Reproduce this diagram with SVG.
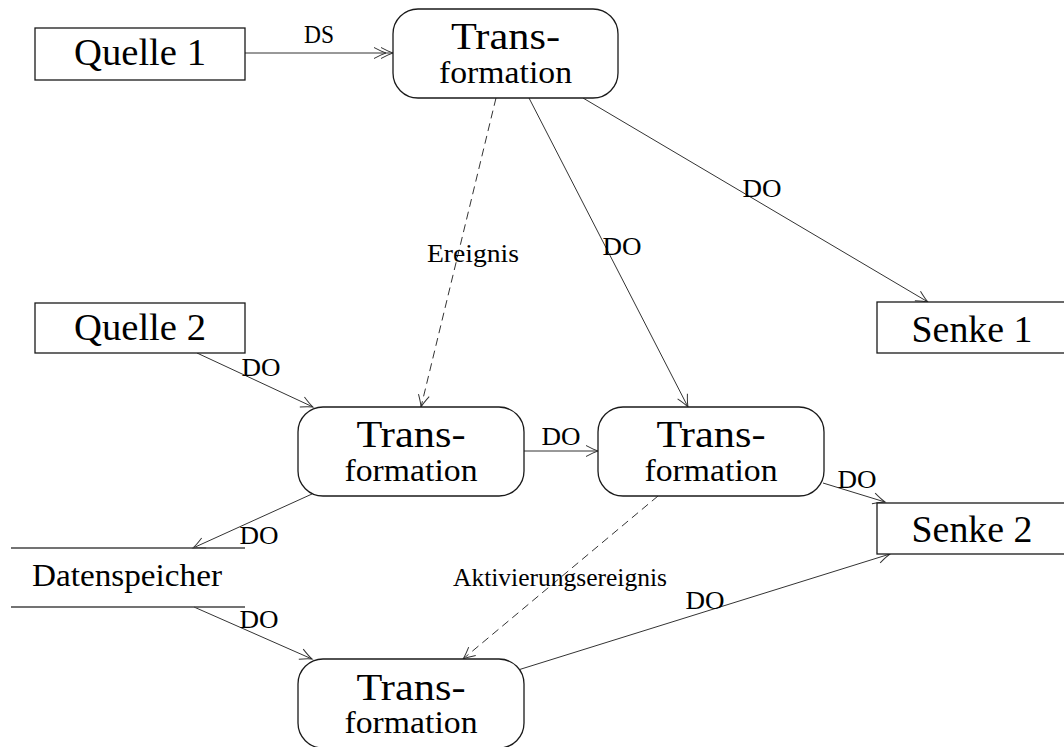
<svg xmlns="http://www.w3.org/2000/svg" width="1064" height="747" viewBox="0 0 1064 747">
  <style>
    .box { fill: #ffffff; stroke: #1a1a1a; stroke-width: 1.3; }
    .store { fill: none; stroke: #444444; stroke-width: 1.4; }
    .edge { fill: none; stroke: #333333; stroke-width: 1; marker-end: url(#tip); }
    .dash { stroke-dasharray: 8 5; }
    .dbl { marker-end: url(#tip2); }
    text { font-family: "Liberation Serif", "Times New Roman", serif; fill: #000000; text-anchor: middle; }
    .big { font-size: 37px; }
    .mid { font-size: 31px; }
    .lbl { font-size: 25px; }
  </style>
  <defs>
    <marker id="tip" markerUnits="userSpaceOnUse" orient="auto" refX="0" refY="0" markerWidth="30" markerHeight="30" viewBox="-15 -15 30 30" overflow="visible">
      <path d="M-12,-5.5 Q-4,-1.2 0,0 Q-4,1.2 -12,5.5" fill="none" stroke="#333333" stroke-width="1"/>
    </marker>
    <marker id="tip2" markerUnits="userSpaceOnUse" orient="auto" refX="0" refY="0" markerWidth="40" markerHeight="30" viewBox="-25 -15 40 30" overflow="visible">
      <path d="M-12,-5.5 Q-4,-1.2 0,0 Q-4,1.2 -12,5.5 M-19,-5.5 Q-11,-1.2 -7,0 Q-11,1.2 -19,5.5" fill="none" stroke="#333333" stroke-width="1"/>
    </marker>
  </defs>

  <!-- connectors -->
  <g id="edges">
    <line class="edge dbl" x1="245" y1="53" x2="393" y2="53"/>
    <text class="lbl" x="319" y="43" textLength="30" lengthAdjust="spacingAndGlyphs">DS</text>

    <line class="edge dash" x1="496" y1="98" x2="421" y2="407"/>
    <text class="lbl" x="473" y="262" textLength="92" lengthAdjust="spacingAndGlyphs">Ereignis</text>

    <line class="edge" x1="529" y1="98" x2="688" y2="407"/>
    <text class="lbl" x="622" y="255" textLength="39" lengthAdjust="spacingAndGlyphs">DO</text>

    <line class="edge" x1="583" y1="98" x2="928" y2="302"/>
    <text class="lbl" x="762" y="197" textLength="39" lengthAdjust="spacingAndGlyphs">DO</text>

    <line class="edge" x1="197" y1="353" x2="313" y2="407"/>
    <text class="lbl" x="261" y="376" textLength="39" lengthAdjust="spacingAndGlyphs">DO</text>

    <line class="edge" x1="524" y1="451" x2="598" y2="451"/>
    <text class="lbl" x="561" y="445" textLength="39" lengthAdjust="spacingAndGlyphs">DO</text>

    <line class="edge" x1="312" y1="494" x2="193" y2="548"/>
    <text class="lbl" x="259" y="544" textLength="39" lengthAdjust="spacingAndGlyphs">DO</text>

    <line class="edge" x1="194" y1="607" x2="312" y2="659"/>
    <text class="lbl" x="259" y="628" textLength="39" lengthAdjust="spacingAndGlyphs">DO</text>

    <line class="edge" x1="823" y1="483" x2="885" y2="502"/>
    <text class="lbl" x="857" y="488" textLength="39" lengthAdjust="spacingAndGlyphs">DO</text>

    <line class="edge dash" x1="658" y1="496" x2="463" y2="659"/>
    <text class="lbl" x="560" y="586" textLength="214" lengthAdjust="spacingAndGlyphs">Aktivierungsereignis</text>

    <line class="edge" x1="518" y1="670" x2="890" y2="554"/>
    <text class="lbl" x="705" y="609" textLength="39" lengthAdjust="spacingAndGlyphs">DO</text>
  </g>

  <!-- sources -->
  <g id="quelle1">
    <rect class="box" x="35" y="28" width="210" height="52"/>
    <text class="big" x="140" y="65" textLength="132" lengthAdjust="spacingAndGlyphs">Quelle 1</text>
  </g>
  <g id="quelle2">
    <rect class="box" x="35" y="303" width="210" height="50"/>
    <text class="big" x="140" y="340" textLength="132" lengthAdjust="spacingAndGlyphs">Quelle 2</text>
  </g>

  <!-- transformations -->
  <g id="trans1">
    <rect class="box" x="393" y="9" width="225" height="89" rx="25" ry="25"/>
    <text class="big" x="505.5" y="49" textLength="109" lengthAdjust="spacingAndGlyphs">Trans-</text>
    <text class="mid" x="505.5" y="83" textLength="133" lengthAdjust="spacingAndGlyphs">formation</text>
  </g>
  <g id="trans2">
    <rect class="box" x="298" y="407" width="226" height="89" rx="25" ry="25"/>
    <text class="big" x="411" y="447" textLength="109" lengthAdjust="spacingAndGlyphs">Trans-</text>
    <text class="mid" x="411" y="481" textLength="133" lengthAdjust="spacingAndGlyphs">formation</text>
  </g>
  <g id="trans3">
    <rect class="box" x="598" y="407" width="226" height="89" rx="25" ry="25"/>
    <text class="big" x="711" y="447" textLength="109" lengthAdjust="spacingAndGlyphs">Trans-</text>
    <text class="mid" x="711" y="481" textLength="133" lengthAdjust="spacingAndGlyphs">formation</text>
  </g>
  <g id="trans4">
    <rect class="box" x="298" y="659" width="226" height="89" rx="25" ry="25"/>
    <text class="big" x="411" y="700" textLength="109" lengthAdjust="spacingAndGlyphs">Trans-</text>
    <text class="mid" x="411" y="733" textLength="133" lengthAdjust="spacingAndGlyphs">formation</text>
  </g>

  <!-- sinks -->
  <g id="senke1">
    <rect class="box" x="877" y="302" width="200" height="51"/>
    <text class="big" x="972" y="342" textLength="121" lengthAdjust="spacingAndGlyphs">Senke 1</text>
  </g>
  <g id="senke2">
    <rect class="box" x="877" y="503" width="200" height="51"/>
    <text class="big" x="972" y="542" textLength="121" lengthAdjust="spacingAndGlyphs">Senke 2</text>
  </g>

  <!-- data store -->
  <g id="datenspeicher">
    <line class="store" x1="11" y1="548" x2="245" y2="548"/>
    <line class="store" x1="11" y1="607" x2="245" y2="607"/>
    <text class="mid" x="127" y="586" textLength="190" lengthAdjust="spacingAndGlyphs">Datenspeicher</text>
  </g>
</svg>
